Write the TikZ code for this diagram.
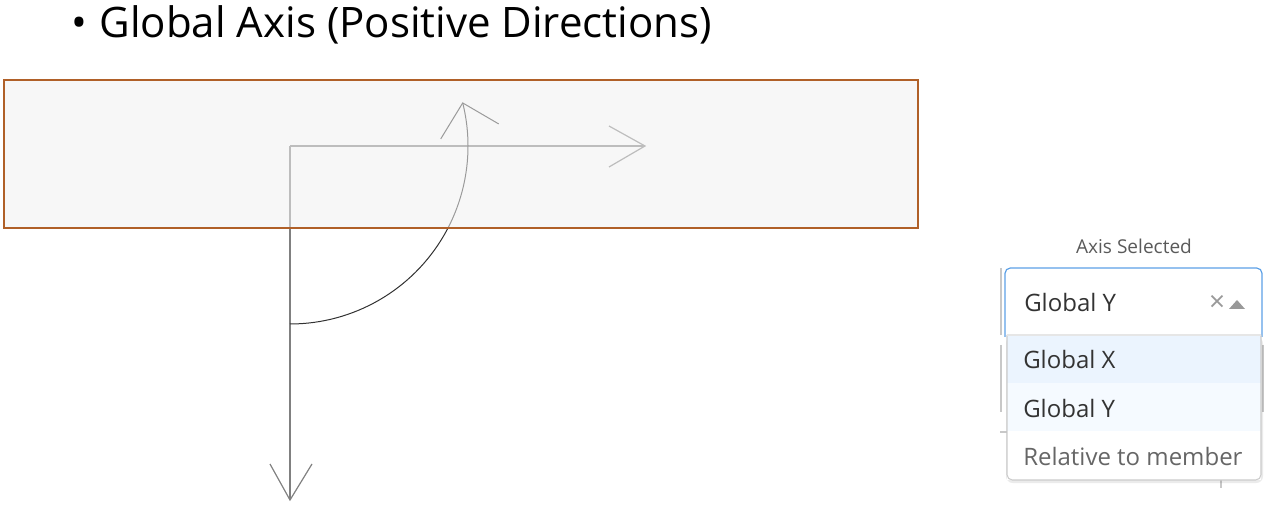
\documentclass[tikz,border=0pt]{standalone}
\usepackage{fontspec}
\setmainfont{Open Sans}
\definecolor{boxedge}{RGB}{176,96,40}
\definecolor{boxfill}{RGB}{240,240,240}
\definecolor{selblue}{RGB}{92,160,230}
\definecolor{rowone}{RGB}{235,244,254}
\definecolor{rowtwo}{RGB}{245,250,255}
\definecolor{menuedge}{RGB}{204,204,204}
\definecolor{faint}{RGB}{200,200,200}
\definecolor{axisgray}{RGB}{128,128,128}
\definecolor{arcdark}{RGB}{50,50,50}
\definecolor{txtdark}{RGB}{51,51,51}
\definecolor{txtgray}{RGB}{102,102,102}
\definecolor{labgray}{RGB}{90,90,90}
\definecolor{icongray}{RGB}{153,153,153}
\definecolor{menutop}{RGB}{230,230,230}
\begin{document}
\begin{tikzpicture}[x=0.75pt,y=-0.75pt,
  axisln/.style={draw=axisgray, line width=0.9pt},
  arcln/.style={draw=arcdark, line width=0.75pt},
  uitext/.style={anchor=west, inner sep=0pt, text=txtdark, font=\fontsize{18}{20}\selectfont},
  uigray/.style={uitext, text=txtgray},
]
\useasboundingbox (0,0) rectangle (1286,513);
% title
\node[anchor=base west, inner sep=0pt, font=\fontsize{31.5}{38}\selectfont] (title) at (71,38) {\textbullet\hspace{0.3em}Global Axis (Positive Directions)};
% axes
\coordinate (O) at (290,146);
\coordinate (Yend) at (290,500);
\coordinate (Xend) at (645,146);
\draw[axisln] (O) -- (Yend);
\draw[axisln] (Yend) ++(-20,-36) -- (Yend) -- ++(22,-36);
\draw[axisln] (O) -- (Xend);
\draw[axisln] (Xend) ++(-36,-20) -- (Xend) -- ++(-36,21);
\draw[arcln] (O) ++(90:178) arc[start angle=90, end angle=-14, radius=178] coordinate (Aend);
\draw[arcln] (Aend) ++(-22,36) -- (Aend) -- ++(36,21);
% translucent box over the axes
\node[draw=boxedge, line width=1.1pt, fill=boxfill, fill opacity=0.55, draw opacity=1,
      minimum width=914*0.75pt, minimum height=148*0.75pt, inner sep=0pt] (box) at (461,154) {};
% faint background UI remnants
\draw[faint, line width=0.9pt] (1001,268) -- (1001,335);
\draw[faint, line width=0.9pt] (1001,345) -- (1001,412);
\draw[faint, line width=0.9pt] (1263,345) -- (1263,412);
\draw[faint, line width=0.9pt] (1000,432) -- (1010,432);
\draw[faint, line width=0.9pt] (1221,480) -- (1221,488);
% select control
\node[anchor=center, inner sep=0pt, text=labgray, font=\fontsize{14.3}{16}\selectfont] (lab) at (1134,246) {Axis Selected};
\draw[selblue, line width=0.9pt, rounded corners=4] (1005,337) -- (1005,268) -- (1262,268) -- (1262,337);
\node[uitext] (cur) at (1024,303) {Global Y};
\node[inner sep=0pt, text=icongray, font=\fontsize{21}{22}\selectfont] (clr) at (1217,303) {×};
\fill[icongray] (1229,309) -- (1245,309) -- (1237,300) -- cycle;
% dropdown menu
\fill[black, opacity=0.08, rounded corners=5] (1006,337) rectangle (1263,483);
\fill[white] (1007,335) rectangle (1261,480);
\fill[rowone] (1007,335) rectangle (1261,383);
\fill[rowtwo] (1007,383) rectangle (1261,431);
\draw[menuedge, line width=0.8pt, rounded corners=4] (1007,335) -- (1007,480) -- (1261,480) -- (1261,335);
\draw[menutop, line width=0.8pt] (1007,335) -- (1261,335);
\node[uitext] (optx) at (1023,360) {Global X};
\node[uitext] (opty) at (1023,408) {Global Y};
\node[uigray] (optr) at (1023,456) {Relative to member};
\end{tikzpicture}
\end{document}
